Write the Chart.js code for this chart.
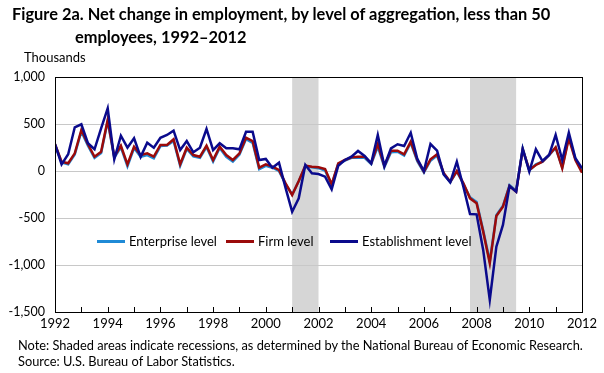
<!DOCTYPE html>
<html>
<head>
<meta charset="utf-8">
<script src="https://cdn.jsdelivr.net/npm/chart.js@4.4.1/dist/chart.umd.min.js"></script>
<style>
  html, body { margin: 0; padding: 0; background: #fff; }
  body { width: 604px; height: 373px; position: relative; overflow: hidden; font-family: Lato, "Open Sans", sans-serif; color: #000; }
  #wrap { position: absolute; left: 0; top: 0; width: 604px; height: 373px; }
  .title { position: absolute; left: 12px; font-weight: bold; font-size: 16.4px; white-space: nowrap; }
  .unit { position: absolute; left: 24px; top: 49px; font-size: 13px; }
  .note { position: absolute; left: 18px; font-size: 12.8px; white-space: nowrap; }
  .legend { position: absolute; top: 233px; font-size: 13px; white-space: nowrap; display: flex; align-items: center; }
  .legend span.sw { display: inline-block; width: 28px; height: 3px; margin-right: 4px; }
</style>
</head>
<body>
<div id="wrap"><canvas id="c" width="604" height="373"></canvas></div>
<div class="title" style="top:4px;">Figure 2a. Net change in employment, by level of aggregation, less than 50</div>
<div class="title" style="top:27px; left:75px;">employees, 1992–2012</div>
<div class="unit">Thousands</div>
<div class="legend" style="left:97px;"><span class="sw" style="background:#1f8ad6"></span>Enterprise level</div>
<div class="legend" style="left:226px;"><span class="sw" style="background:#9b0a0a"></span>Firm level</div>
<div class="legend" style="left:330px;"><span class="sw" style="background:#0a0a8c"></span>Establishment level</div>
<div class="note" style="top:337px;">Note: Shaded areas indicate recessions, as determined by the National Bureau of Economic Research.</div>
<div class="note" style="top:353px;">Source: U.S. Bureau of Labor Statistics.</div>
<script>
// Quarterly periods, 1992 Q1 .. 2012 Q1 (year + quarter offset)
const startYear = 1992;
const quarterCount = 81;
const periods = Array.from({length: quarterCount}, (_, i) => startYear + i / 4);

const enterpriseLevel = [280, 90, 70, 175, 420, 270, 140, 190, 530, 140, 255, 50, 245, 150, 170, 135, 265, 270, 320, 55,
  235, 155, 140, 255, 100, 245, 150, 100, 175, 340, 300, 20, 55, 35, 0, -140, -250, -110, 50, 40,
  30, 5, -150, 75, 110, 140, 140, 140, 75, 260, 40, 200, 205, 165, 300, 105, -15, 110, 165, -30,
  -120, -5, -140, -280, -330, -630, -960, -470, -370, -150, -210, 240, 5, 70, 100, 170, 245, 40, 365, 130, -5];

const firmLevel = [285, 99, 82, 188, 436, 284, 152, 205, 543, 152, 269, 71, 259, 170, 188, 152, 277, 277, 337, 71,
  248, 170, 152, 269, 117, 259, 170, 117, 188, 354, 319, 35, 71, 46, 11, -131, -255, -106, 56, 46,
  39, 21, -142, 82, 117, 145, 152, 152, 82, 287, 55, 216, 216, 177, 312, 117, -7, 124, 177, -20,
  -115, 0, -131, -291, -344, -645, -982, -479, -379, -160, -220, 230, 11, 64, 99, 170, 252, 29, 348, 117, -18];

const establishmentLevel = [285, 71, 178, 465, 497, 295, 231, 454, 667, 124, 375, 248, 348, 150, 301, 248, 354, 383, 429, 223,
  319, 199, 248, 447, 223, 295, 241, 241, 231, 418, 418, 117, 128, 35, 88, -180, -433, -291, 64, -25,
  -32, -60, -195, 56, 117, 152, 213, 160, 82, 383, 53, 241, 284, 266, 407, 128, 0, 287, 216, -35,
  -120, 99, -170, -457, -461, -840, -1372, -805, -574, -160, -220, 235, -7, 231, 106, 170, 383, 117, 407, 135, 29];

// Recessions (NBER), as decimal years
const recessionStarts = [2001.0, 2007.75];
const recessionEnds = [2002.0, 2009.5];

const yTickValues = [-1500, -1000, -500, 0, 500, 1000];
const xTickYears = Array.from({length: 21}, (_, i) => 1992 + i);

function pts(values) { return values.map((v, i) => ({x: periods[i], y: v})); }

const recessionPlugin = {
  id: 'recessions',
  beforeDraw(chart) {
    const {ctx, chartArea, scales} = chart;
    ctx.save();
    ctx.fillStyle = '#d6d6d6';
    recessionStarts.forEach((s, i) => {
      const x1 = scales.x.getPixelForValue(s);
      const x2 = scales.x.getPixelForValue(recessionEnds[i]);
      ctx.fillRect(x1, chartArea.top, x2 - x1, chartArea.bottom - chartArea.top);
    });
    ctx.restore();
  },
  afterDraw(chart) {
    const {ctx, chartArea, scales} = chart;
    ctx.save();
    ctx.strokeStyle = '#000';
    ctx.lineWidth = 1;
    ctx.strokeRect(Math.round(chartArea.left) + 0.5, Math.round(chartArea.top) + 0.5,
      Math.round(chartArea.right - chartArea.left), Math.round(chartArea.bottom - chartArea.top));
    ctx.beginPath();
    xTickYears.forEach(yr => {
      const x = Math.round(scales.x.getPixelForValue(yr)) + 0.5;
      ctx.moveTo(x, chartArea.bottom);
      ctx.lineTo(x, chartArea.bottom - 5);
    });
    ctx.stroke();
    ctx.restore();
  }
};

new Chart(document.getElementById('c'), {
  type: 'line',
  data: {
    datasets: [
      {label: 'Enterprise level', data: pts(enterpriseLevel), borderColor: '#1f8ad6', borderWidth: 2.5, pointRadius: 0, tension: 0, order: 2},
      {label: 'Firm level', data: pts(firmLevel), borderColor: '#9b0a0a', borderWidth: 2.5, pointRadius: 0, tension: 0, order: 1},
      {label: 'Establishment level', data: pts(establishmentLevel), borderColor: '#0a0a8c', borderWidth: 2.5, pointRadius: 0, tension: 0, order: 0}
    ]
  },
  options: {
    responsive: false,
    animation: false,
    devicePixelRatio: 1,
    layout: {padding: {left: 0, top: 77, right: 22, bottom: 38}},
    plugins: {legend: {display: false}, title: {display: false}, tooltip: {enabled: false}},
    scales: {
      x: {
        type: 'linear', min: 1992, max: 2012,
        afterBuildTicks(scale) { scale.ticks = xTickYears.map(v => ({value: v})); },
        afterFit(scale) { scale.height = 23; },
        ticks: {
          autoSkip: false, maxRotation: 0, padding: 4,
          font: {family: 'Lato', size: 13}, color: '#000',
          callback(v) { return (v % 2 === 0) ? String(v) : ''; }
        },
        grid: {display: true, drawOnChartArea: false, drawTicks: false},
        border: {display: true, color: '#000'}
      },
      y: {
        min: -1500, max: 1000,
        afterBuildTicks(scale) { scale.ticks = yTickValues.map(v => ({value: v})); },
        afterFit(scale) { scale.width = 55; },
        ticks: {
          padding: 10, font: {family: 'Lato', size: 12.5}, color: '#000',
          callback(v) { return v.toLocaleString('en-US'); }
        },
        grid: {color: '#c8c8c8', drawTicks: false, lineWidth: 1},
        border: {display: true, color: '#000'}
      }
    }
  },
  plugins: [recessionPlugin]
});
</script>
</body>
</html>
